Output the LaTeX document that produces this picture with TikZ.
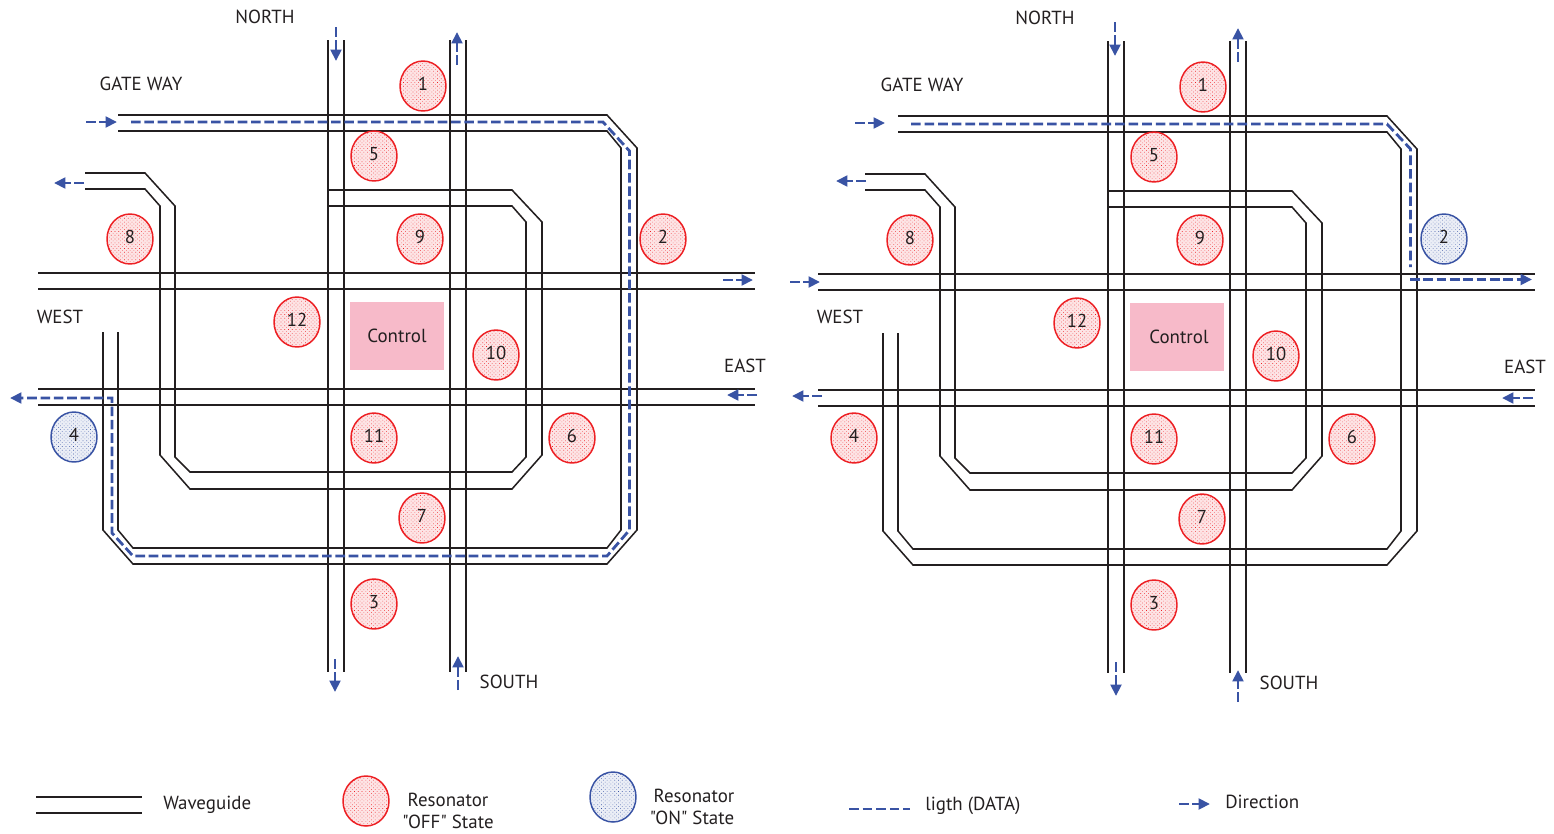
\documentclass[tikz,border=0pt]{standalone}
\usepackage{fontspec}
\setmainfont{PT Sans}[Ligatures=TeXOff]
\usetikzlibrary{patterns.meta,shapes.geometric,arrows.meta}
\definecolor{wgblack}{HTML}{231F20}
\definecolor{lightblue}{HTML}{3953A4}
\definecolor{offred}{HTML}{ED2024}
\definecolor{ctrlpink}{HTML}{F7BAC9}
\tikzset{
  wg/.style={draw=wgblack,line width=1.15pt,line join=miter},
  data/.style={draw=lightblue,line width=2.1pt,dash pattern=on 7.2pt off 3pt},
  dirn/.style={draw=lightblue,line width=2.1pt,dash pattern=on 7.2pt off 2.8pt,
    -{Triangle[length=8.5pt,width=8pt,fill=lightblue]}},
  resbase/.style={ellipse,minimum width=34.5pt,minimum height=37.5pt,inner sep=0pt,line width=1.1pt,font=\fontsize{14}{14}\selectfont,text=wgblack,text height=10pt,text depth=3.5pt},
  resoff/.style={resbase,draw=offred,fill=offred!12,
    postaction={pattern={Dots[radius=.32pt,distance=2pt,angle=45,xshift=0pt]},pattern color=offred}},
  reson/.style={resbase,draw=lightblue,fill=lightblue!10,
    postaction={pattern={Dots[radius=.32pt,distance=2pt,angle=45]},pattern color=lightblue}},
  lbl/.style={font=\fontsize{14.2}{16}\selectfont,text=wgblack,inner sep=0pt},
  ctrl/.style={fill=ctrlpink,minimum width=70pt,minimum height=51pt,inner sep=0pt,font=\fontsize{14.2}{16}\selectfont,text=wgblack},
}
\newcommand{\wgguides}{%
  % north-south
  \draw[wg] (328,40)--(328,672) (344,40)--(344,672) (450,40)--(450,672) (466,40)--(466,672);
  % east-west
  \draw[wg] (38,273)--(755,273) (38,289)--(755,289) (38,389)--(755,389) (38,405)--(755,405);
  % gateway ring
  \draw[wg] (118,115)--(607,115)--(637,148)--(637,530)--(607,564)--(133,564)--(103,530)--(103,332);
  \draw[wg] (118,131)--(607,131)--(621,148)--(621,530)--(607,548)--(133,548)--(118,530)--(118,332);
  % inner loop
  \draw[wg] (85,173)--(145,173)--(175,206)--(175,457)--(190,472)--(512,472)--(526,457)--(526,222)--(512,206)--(328,206);
  \draw[wg] (85,189)--(145,189)--(160,206)--(160,455)--(190,489)--(512,489)--(542,455)--(542,222)--(512,190)--(328,190);
}
\newcommand{\wglabels}{%
  \node[resoff] (r1) at (423,86) {1};
  \node[resoff] (r5) at (374,156) {5};
  \node[resoff] (r9) at (420,239) {9};
  \node[resoff] (r8) at (130,239) {8};
  \node[resoff] (r12) at (297,322) {12};
  \node[resoff] (r10) at (496,355) {10};
  \node[resoff] (r11) at (374,438) {11};
  \node[resoff] (r6) at (572,438) {6};
  \node[resoff] (r7) at (422,518) {7};
  \node[resoff] (r3) at (374,604) {3};
}
\begin{document}
\begin{tikzpicture}[x=0.75pt,y=-0.75pt]
\useasboundingbox (0,0) rectangle (1554,833);
% ---------- left panel
\begin{scope}[name prefix=L-]
  \wgguides
  \draw[dirn] (131,122)--(603,122)--(629.5,151)--(629.5,530)--(607,556)--(133,556)--(112,533)--(112,398)--(10,398);
  \draw[dirn] (336,27)--(336,61);
  \draw[dirn] (457,65)--(457,32);
  \draw[dirn] (335,659)--(335,692);
  \draw[dirn] (458,690)--(458,656);
  \draw[dirn] (86,122)--(117,122);
  \draw[dirn] (84,183)--(54,183);
  \draw[dirn] (723,280)--(753,280);
  \draw[dirn] (757,395)--(727,395);
  \node[ctrl] (ctl) at (397,336) {Control};
  \wglabels
  \node[resoff] (r2) at (663,239) {2};
  \node[reson] (r4) at (74,437) {4};
  \node[lbl] (north) at (265,17) {NORTH};
  \node[lbl] (gate) at (141,84) {GATE WAY};
  \node[lbl] (west) at (60,317) {WEST};
  \node[lbl] (east) at (745,366) {EAST};
  \node[lbl] (south) at (509,682) {SOUTH};
\end{scope}
% ---------- right panel
\begin{scope}[name prefix=R-,shift={(780,1)}]
  \wgguides
  \draw[data] (131,123)--(607,123)--(630.5,148)--(630.5,266);
  \draw[dirn] (630,278.5)--(752,278.5);
  \draw[dirn] (335,21)--(335,55);
  \draw[dirn] (458,61)--(458,27);
  \draw[dirn] (336,661)--(336,695);
  \draw[dirn] (458,701)--(458,669);
  \draw[dirn] (75,122)--(105,122);
  \draw[dirn] (86,180)--(56,180);
  \draw[dirn] (10,281)--(40,281);
  \draw[dirn] (42,395)--(12,395);
  \draw[dirn] (753,397)--(722,397);
  \node[ctrl] (ctl) at (397,336) {\hspace*{3pt}Control};
  \wglabels
  \node[reson] (r2) at (664,238) {2};
  \node[resoff] (r4) at (74,437) {4};
  \node[lbl] (north) at (265,17) {NORTH};
  \node[lbl] (gate) at (142,84) {GATE WAY};
  \node[lbl] (west) at (60,316) {WEST};
  \node[lbl] (east) at (745,366) {EAST};
  \node[lbl] (south) at (509,682) {SOUTH};
\end{scope}
% ---------- legend
\draw[wg] (36,797)--(142,797) (36,813)--(142,813);
\node[lbl,anchor=west] (kwg) at (163,805) {Waveguide};
\node[resoff] (koff) at (366,801) {};
\node[lbl] (koff1) at (448,800) {Resonator};
\node[lbl] (koff2) at (448,822) {"OFF" State};
\node[reson] (kon) at (613,797) {};
\node[lbl] (kon1) at (694,796) {Resonator};
\node[lbl] (kon2) at (692,818) {"ON" State};
\draw[data] (849,809)--(910,809);
\node[lbl,anchor=west] (kdata) at (925,806) {ligth (DATA)};
\draw[dirn] (1179,804)--(1210,804);
\node[lbl,anchor=west] (kdir) at (1225,802) {Direction};
\end{tikzpicture}
\end{document}
